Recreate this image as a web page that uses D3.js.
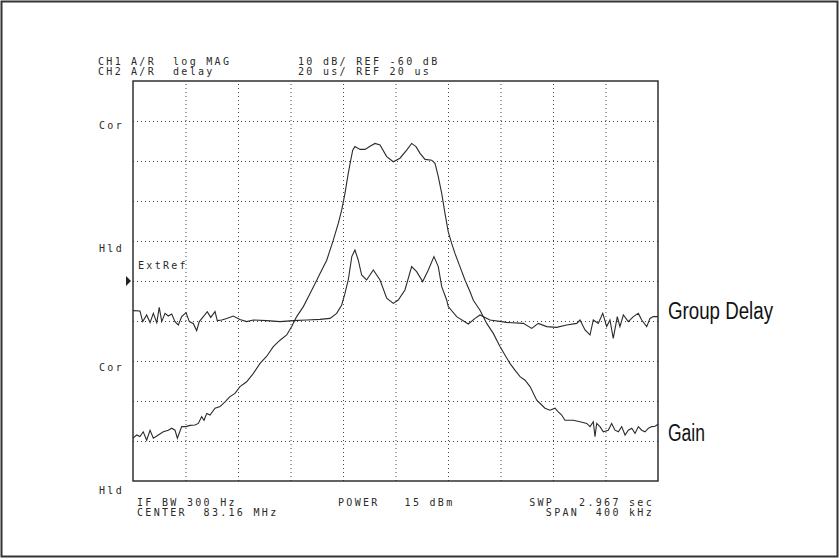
<!DOCTYPE html>
<html>
<head>
<meta charset="utf-8">
<script src="https://cdn.jsdelivr.net/npm/d3@7"></script>
<style>
  html, body { margin: 0; padding: 0; background: #fff; }
  svg text { fill: #2a2a2a; }
  .mono { font-family: "DejaVu Sans Mono", monospace; font-size: 10px; letter-spacing: 2.3px; white-space: pre; }
  .label { font-family: "Liberation Sans", Arial, sans-serif; font-size: 23px; fill: #111; }
  .grid line { stroke: #444; stroke-width: 1; stroke-dasharray: 1 3; }
  .grid path { display: none; }
</style>
</head>
<body>
<svg id="chart" width="840" height="560"></svg>
<script>
// frequency offset from center (kHz) and gain (dB), CH1 log MAG
const gainFreq = [-200,-197.2,-194.7,-192.2,-189.6,-187,-184.5,-180.7,-176.9,-173.1,-170.5,-168,-166.2,-162.9,-159.6,-156.6,-152.8,-150.2,-147.7,-145.9,-143.8,-141.3,-137.5,-133.7,-129.9,-126.1,-122.3,-118.5,-113.4,-108.3,-103.2,-98.1,-93.1,-88,-82.9,-79.1,-75.3,-70.2,-65.1,-60,-57.5,-52.4,-47.4,-43.6,-41,-38.5,-36,-34.1,-32.6,-30.9,-27,-23.2,-19.4,-15.6,-11.8,-6.7,-1.7,3.4,8.5,12.3,15.6,18.7,22.5,27.6,30.1,32.6,35.2,37.7,40.2,42.8,45.3,49.1,53,56.8,59.3,64.4,69.5,74.5,79.6,83.4,87.2,91,94.9,98.7,102.5,107.6,111.4,113.9,117.7,121.5,124,126.6,129.1,135.5,140.6,145.7,148.2,150.7,152,153.3,155.8,158.3,162.1,164.7,167.2,169.8,172.3,174.9,177.4,180,182.5,185,187.6,190.1,192.7,195.2,197.7,200];
const gainDb = [-99.3,-98.5,-98.9,-97.7,-99.8,-97.3,-99.3,-98.5,-97.7,-97.3,-96.8,-97.3,-99.3,-96.4,-96.4,-96.1,-96,-95.6,-93.9,-94.8,-93.1,-93.5,-91.8,-91.4,-90.2,-88.9,-88.1,-86.4,-85.2,-83.1,-80.6,-78.8,-76.4,-74.8,-73.5,-71.4,-68.9,-66.4,-63.1,-59.8,-58.1,-54.8,-49.8,-45.6,-42.3,-38.1,-33.1,-29.8,-27.3,-26.4,-27.1,-27.1,-26.3,-25.6,-26,-28.9,-30.2,-29.3,-27.3,-25.6,-26.4,-28.1,-29.6,-29.8,-30.6,-33.9,-38.1,-43.1,-47.7,-50.6,-53.1,-56.4,-59.8,-62.7,-64.8,-67.3,-70.6,-73.1,-76.4,-78.5,-80.6,-82.3,-83.9,-84.8,-86.4,-89.8,-91,-91.8,-92.3,-91.8,-92.7,-93.5,-94.8,-94.8,-95.2,-95.6,-96.4,-95.2,-98.9,-95.6,-96.4,-97.7,-97.3,-95.6,-97.3,-97.7,-96.4,-98.5,-97.3,-96.8,-98.1,-96.4,-97.3,-97.7,-96.8,-96.4,-96.3,-95.8];

// frequency offset (kHz) and group delay (us), CH2 delay
const delayFreq = [-200,-194.7,-192.6,-189.6,-187,-184.5,-181.9,-180,-178.1,-175.6,-173.1,-170.5,-168,-165.5,-162.9,-159.6,-157.1,-154.1,-151.5,-149.5,-146.4,-143.4,-140.8,-137.5,-135.8,-132.4,-128.6,-123.6,-118.5,-113.4,-108.3,-98.1,-88,-77.9,-67.7,-57.5,-49.9,-44.8,-41,-38.5,-36,-33.3,-30.9,-28.4,-25.8,-22,-16.9,-11.8,-6.7,-1.7,2.1,7.2,12.3,16.1,20.7,25,29.3,32.6,35.2,39,40.2,46.6,55.5,60.6,64.4,72,84.7,97.4,103.8,108.8,115.2,122.8,130.4,138.1,140.6,144.4,148.2,150.7,154.5,157.9,160.9,163.4,165.9,169,171,173.6,177.4,181.2,185,187.6,191.4,193.9,196.4,200];
const delayUs = [5.2,5,-0.3,3,-0.8,3.8,-0.8,6.8,-0.3,3.8,2.5,3.5,-0.3,-2,2.2,4.2,-0.3,-1.2,-4.8,-0.3,2.2,4.7,1.8,4.7,0.2,0.5,1.3,2.5,0.8,-0.3,0.5,0.2,-0.3,0.2,0.5,0.8,1.3,3.8,8,13.8,20.5,32.2,35.5,30.5,23,20.5,25.5,20.5,11.4,8.8,10.5,15.5,27.2,24.7,19.7,25.5,32.2,27.2,17.2,10.5,7.2,2.2,-1.5,1.3,3,0.5,-0.7,-1.2,-3.7,-1.2,-2.8,-3.2,-2,-1.2,0.5,-4.5,-7,0.5,-1.2,3.8,-2.8,0.5,-8.7,2.2,-2.8,3,-0.3,2.2,3.8,0.5,-2.8,1.3,2.2,2.2];

const headerLeft  = [["CH1", "A/R", "log MAG"], ["CH2", "A/R", "delay"]];
const headerRight = ["10 dB/ REF -60 dB", "20 us/ REF 20 us"];
const sideLabels  = ["Cor", "Hld", "Cor", "Hld"];
const footLeft    = ["IF BW 300 Hz", "CENTER  83.16 MHz"];
const footMid     = "POWER   15 dBm";
const footRight   = ["SWP   2.967 sec", "SPAN  400 kHz"];
const traceNames  = ["Group Delay", "Gain"];

const svg = d3.select('#chart');
const L = 133, R = 658, T = 81, B = 481;

const x  = d3.scaleLinear().domain([-200, 200]).range([L, R]);
const yG = d3.scaleLinear().domain([-110, -10]).range([B, T]);   // 10 dB/div, ref -60 at center
const yD = d3.scaleLinear().domain([-80, 120]).range([B, T]);    // 20 us/div, ref 20 at center

// outer frame
svg.append('rect')
    .attr('x', 1.5).attr('y', 1.5).attr('width', 836).attr('height', 555)
    .attr('fill', 'none').attr('stroke', '#333').attr('stroke-width', 2);

// dotted graticule
svg.append('g').attr('class', 'grid')
    .attr('transform', `translate(0,${B})`)
    .call(d3.axisBottom(x).tickValues(d3.range(-160, 200, 40)).tickSize(-(B - T)).tickFormat(''));
svg.append('g').attr('class', 'grid')
    .attr('transform', `translate(${L},0)`)
    .call(d3.axisLeft(yG).tickValues(d3.range(-100, -10, 10)).tickSize(-(R - L)).tickFormat(''));

// plot border
svg.append('rect')
    .attr('x', L).attr('y', T).attr('width', R - L).attr('height', B - T)
    .attr('fill', 'none').attr('stroke', '#222').attr('stroke-width', 1.4);

// traces
const lineG = d3.line().x((d, i) => x(gainFreq[i])).y(d => yG(d));
const lineD = d3.line().x((d, i) => x(delayFreq[i])).y(d => yD(d));
svg.append('path').datum(gainDb)
    .attr('fill', 'none').attr('stroke', '#2b2b2b').attr('stroke-width', 1.1).attr('d', lineG);
svg.append('path').datum(delayUs)
    .attr('fill', 'none').attr('stroke', '#2b2b2b').attr('stroke-width', 1.1).attr('d', lineD);

// header
const hx = [98, 131, 173];
headerLeft.forEach((row, r) => {
    row.forEach((t, c) => {
        svg.append('text').attr('class', 'mono').attr('x', hx[c]).attr('y', 65 + r * 10).text(t);
    });
    svg.append('text').attr('class', 'mono').attr('x', 298).attr('y', 65 + r * 10).text(headerRight[r]);
});

// left side labels
const sideY = [129, 252, 371, 494];
sideLabels.forEach((t, i) => {
    svg.append('text').attr('class', 'mono').attr('x', 99).attr('y', sideY[i]).text(t);
});
svg.append('text').attr('class', 'mono').attr('x', 138).attr('y', 269).text('ExtRef');

// reference position marker
const ry = yG(-60);
svg.append('path')
    .attr('d', `M${L - 7},${ry - 5}L${L - 2},${ry}L${L - 7},${ry + 5}Z`)
    .attr('fill', '#222');

// footer
footLeft.forEach((t, i) => {
    svg.append('text').attr('class', 'mono').attr('x', 137).attr('y', 506 + i * 10).text(t);
});
svg.append('text').attr('class', 'mono').attr('x', 338).attr('y', 506).text(footMid);
footRight.forEach((t, i) => {
    svg.append('text').attr('class', 'mono').attr('x', 654).attr('y', 506 + i * 10)
        .attr('text-anchor', 'end').text(t);
});

// trace names at right edge, condensed to the reference's width
const nameY = [319, 441], nameW = [105, 37];
traceNames.forEach((t, i) => {
    svg.append('text').attr('class', 'label').attr('x', 668).attr('y', nameY[i])
        .attr('textLength', nameW[i]).attr('lengthAdjust', 'spacingAndGlyphs').text(t);
});
</script>
</body>
</html>
